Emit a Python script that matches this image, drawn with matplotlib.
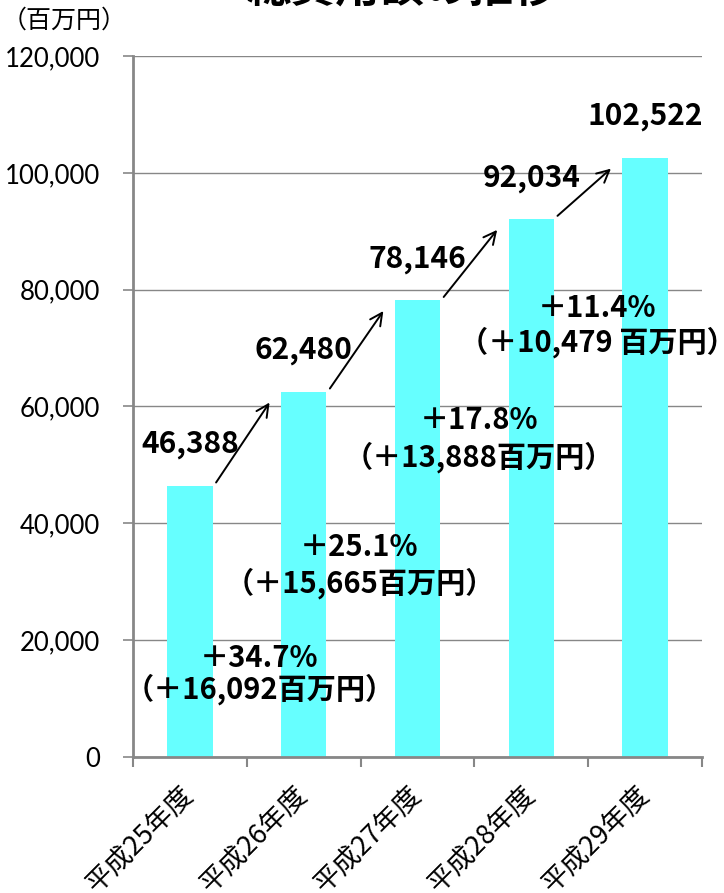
import matplotlib
matplotlib.use("Agg")
import matplotlib.pyplot as plt
from matplotlib.ticker import FuncFormatter, FixedLocator

# ---- data ----
categories = ["平成25年度", "平成26年度", "平成27年度", "平成28年度", "平成29年度"]
values = [46388, 62480, 78146, 92034, 102522]
growth_pct = ["＋34.7%", "＋25.1%", "＋17.8%", "＋11.4%"]
growth_abs = ["（＋16,092百万円）", "（＋15,665百万円）", "（＋13,888百万円）", "（＋10,479 百万円）"]
yticks = [0, 20000, 40000, 60000, 80000, 100000, 120000]

# ---- layout (positions of the growth notes, data coords) ----
note_x = [0.61, 1.49, 2.54, 3.58]
note_y1 = [16900, 35950, 57700, 76850]
note_y2 = [11640, 29780, 51350, 71040]

JP = "Noto Sans CJK JP"
NUM = "Lato"

fig = plt.figure(figsize=(7.24, 8.93), dpi=100)
W, H = 724, 893
ax = fig.add_axes([133 / W, 1 - 757 / H, (702 - 133) / W, (757 - 56) / H])

x = list(range(len(categories)))
ax.bar(x, values, width=0.4, color="#66FFFF", zorder=2)

ax.set_xlim(-0.5, len(categories) - 0.5)
ax.set_ylim(0, 120000)

gray = "#878787"
# grid
ax.set_yticks(yticks)
ax.yaxis.grid(True, color=gray, linewidth=1.0, zorder=0)
ax.set_axisbelow(True)
ax.yaxis.set_major_formatter(FuncFormatter(lambda v, p: f"{int(v):,}"))
ax.tick_params(axis="y", length=7, width=1.2, color=gray, pad=17,
               labelsize=18.5)
for lab in ax.get_yticklabels():
    lab.set_fontfamily(NUM)

# x ticks: major at boundaries, minor (labels) at centres
ax.xaxis.set_major_locator(FixedLocator([i - 0.5 for i in range(len(categories) + 1)]))
ax.xaxis.set_major_formatter(FuncFormatter(lambda v, p: ""))
ax.xaxis.set_minor_locator(FixedLocator(x))
ax.set_xticklabels(categories, minor=True)
ax.tick_params(axis="x", which="major", length=7, width=1.5, color=gray)
ax.tick_params(axis="x", which="minor", length=0, pad=24, labelsize=19.5)
for lab in ax.get_xticklabels(minor=True):
    lab.set_fontfamily(JP)
    lab.set_rotation(45)
    lab.set_ha("right")
    lab.set_va("center")
    lab.set_rotation_mode("anchor")

for s in ["top", "right"]:
    ax.spines[s].set_visible(False)
for s in ["left", "bottom"]:
    ax.spines[s].set_color(gray)
    ax.spines[s].set_linewidth(2.0)

# value labels
for i, v in enumerate(values):
    ax.annotate(f"{v:,}", xy=(i, v), xytext=(0, 30), textcoords="offset points",
                ha="center", va="center", fontsize=21.5, fontweight="bold",
                fontfamily=[JP, "DejaVu Sans"], color="black", zorder=5)

# arrows between bars
for i in range(len(values) - 1):
    ax.annotate("", xy=(i + 1 - 0.3, values[i + 1] - 1800),
                xytext=(i + 0.23, values[i] + 600),
                arrowprops=dict(arrowstyle="->", lw=1.4, color="black",
                                mutation_scale=22, shrinkA=0, shrinkB=0),
                zorder=5)

# growth notes
for i in range(len(growth_pct)):
    ax.text(note_x[i], note_y1[i], growth_pct[i], ha="center", va="center",
            fontsize=21, fontweight="bold", fontfamily=[JP, "DejaVu Sans"], zorder=5)
    ax.text(note_x[i], note_y2[i], growth_abs[i], ha="center", va="center",
            fontsize=21, fontweight="bold", fontfamily=[JP, "DejaVu Sans"], zorder=5)

# unit label
fig.text(2 / W, 1 - 21 / H, "（百万円）", ha="left", va="center", fontsize=18,
         fontfamily=JP)

# title (clipped at top of the image)
fig.text(402 / W, 1 - 12 / H, "総費用額の推移", ha="center", va="bottom",
         fontsize=32, fontweight="bold", fontfamily=JP)

fig.savefig("out.png", dpi=100)
